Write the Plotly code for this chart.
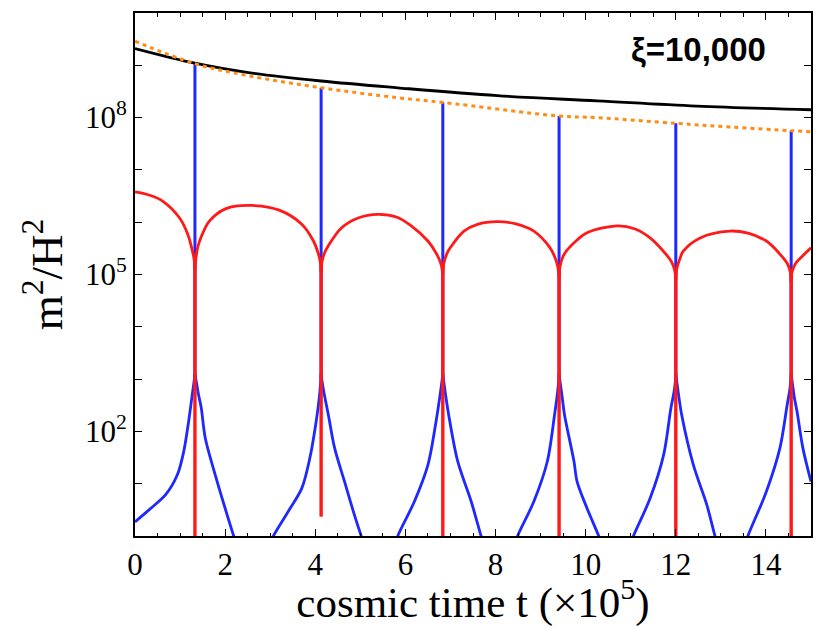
import plotly.graph_objects as go

# ---------------- data (log10 of m^2/H^2) ----------------
spike_t = [1.33, 4.13, 6.83, 9.41, 12.0, 14.56]
blue_spike_top = [9.03, 8.57, 8.29, 8.03, 7.89, 7.75]
blue_spike_base = [3.0, 3.0, 3.0, 3.0, 3.0, 3.0]
red_spike_top = [5.3, 5.25, 5.2, 5.15, 5.1, 5.05]
red_spike_bottom = [-1.0, 0.37, -1.0, -1.0, -1.0, -1.0]

black_t = [0, 1.33, 2.52, 4.13, 5.83, 8.04, 10.25, 12.46, 15.0]
black_v = [9.32, 9.04, 8.86, 8.70, 8.57, 8.42, 8.32, 8.22, 8.15]

orange_t = [0, 1.33, 2.52, 4.13, 5.83, 6.83, 9.41, 10.25, 12.0, 13.2, 14.56, 15.0]
orange_v = [9.46, 9.03, 8.80, 8.57, 8.38, 8.29, 8.03, 8.0, 7.89, 7.82, 7.75, 7.73]

red_arches = [
    ([0, 0.31, 0.62, 0.99, 1.17, 1.26, 1.31, 1.33],
     [6.58, 6.52, 6.40, 6.08, 5.77, 5.50, 5.30, 5.10]),
    ([1.33, 1.35, 1.40, 1.46, 1.65, 2.02, 2.57, 3.2, 3.7, 3.96, 4.06, 4.11, 4.13],
     [5.10, 5.30, 5.55, 5.70, 6.02, 6.26, 6.32, 6.23, 5.96, 5.64, 5.42, 5.25, 5.05]),
    ([4.13, 4.15, 4.21, 4.29, 4.58, 4.95, 5.39, 5.8, 6.13, 6.5, 6.70, 6.79, 6.83],
     [5.05, 5.25, 5.42, 5.55, 5.89, 6.08, 6.15, 6.10, 5.93, 5.64, 5.38, 5.20, 5.00]),
    ([6.83, 6.85, 6.92, 7.01, 7.3, 7.6, 8.04, 8.45, 8.85, 9.21, 9.33, 9.38, 9.41],
     [5.00, 5.20, 5.40, 5.53, 5.83, 5.96, 6.01, 5.97, 5.83, 5.51, 5.30, 5.15, 4.95]),
    ([9.41, 9.43, 9.50, 9.59, 9.81, 10.03, 10.7, 11.1, 11.43, 11.72, 11.90, 11.97, 12.0],
     [4.95, 5.15, 5.35, 5.47, 5.66, 5.80, 5.93, 5.87, 5.70, 5.45, 5.25, 5.10, 4.90]),
    ([12.0, 12.02, 12.09, 12.17, 12.54, 13.2, 13.6, 14.01, 14.30, 14.48, 14.54, 14.56],
     [4.90, 5.10, 5.30, 5.45, 5.70, 5.83, 5.79, 5.64, 5.40, 5.20, 5.05, 4.85]),
    ([14.56, 14.58, 14.65, 14.75, 15.0],
     [4.85, 5.05, 5.20, 5.30, 5.51]),
]

blue_cusps = [
    ([0, 0.31, 0.68, 0.94, 1.08, 1.19, 1.27, 1.31, 1.33],
     [0.27, 0.50, 0.79, 1.17, 1.61, 2.19, 2.70, 2.95, 3.10]),
    ([1.33, 1.36, 1.41, 1.47, 1.56, 1.78, 2.0, 2.19, 2.25],
     [3.10, 2.95, 2.70, 2.45, 1.87, 1.17, 0.53, 0.0, -0.15]),
    ([3.0, 3.07, 3.4, 3.7, 3.88, 4.02, 4.09, 4.12, 4.13],
     [-0.15, 0.0, 0.47, 0.91, 1.49, 2.19, 2.65, 2.95, 3.10]),
    ([4.13, 4.16, 4.22, 4.29, 4.43, 4.65, 4.87, 5.02, 5.08],
     [3.10, 2.90, 2.62, 2.32, 1.68, 1.04, 0.40, 0.0, -0.15]),
    ([5.78, 5.83, 6.2, 6.5, 6.68, 6.77, 6.81, 6.83],
     [-0.15, 0.0, 0.66, 1.36, 2.19, 2.70, 2.95, 3.10]),
    ([6.83, 6.86, 6.90, 6.96, 7.16, 7.46, 7.68, 7.74],
     [3.10, 2.90, 2.65, 2.32, 1.43, 0.66, 0.0, -0.15]),
    ([8.44, 8.49, 8.85, 9.15, 9.31, 9.37, 9.40, 9.41],
     [-0.15, 0.0, 0.66, 1.43, 2.32, 2.70, 2.95, 3.10]),
    ([9.41, 9.44, 9.48, 9.53, 9.74, 9.81, 10.03, 10.29, 10.35],
     [3.10, 2.90, 2.65, 2.32, 1.43, 1.04, 0.53, 0.0, -0.15]),
    ([11.0, 11.06, 11.43, 11.73, 11.89, 11.96, 11.99, 12.0],
     [-0.15, 0.0, 0.72, 1.55, 2.44, 2.75, 2.95, 3.10]),
    ([12.0, 12.03, 12.07, 12.13, 12.39, 12.69, 12.87, 12.93],
     [3.10, 2.90, 2.65, 2.32, 1.36, 0.59, 0.0, -0.15]),
    ([13.55, 13.6, 14.01, 14.31, 14.47, 14.53, 14.55, 14.56],
     [-0.15, 0.0, 0.85, 1.68, 2.50, 2.80, 2.98, 3.10]),
    ([14.56, 14.59, 14.63, 14.69, 14.82, 15.0],
     [3.10, 2.90, 2.65, 2.38, 1.68, 1.04]),
]

x_ticks = [0, 2, 4, 6, 8, 10, 12, 14]
y_label_decades = [2, 5, 8]
y_all_decades = list(range(0, 11))

# ---------------- build traces ----------------
RED = "rgb(255,25,25)"
BLUE = "rgb(30,40,255)"
ORANGE = "rgb(255,140,20)"


def join_segments(segs):
    xs, ys = [], []
    for tx, vy in segs:
        xs += list(tx) + [None]
        ys += [10 ** v for v in vy] + [None]
    return xs, ys


fig = go.Figure()

# blue vertical spikes
bx, by = join_segments([([t, t], [b, top]) for t, b, top in zip(spike_t, blue_spike_base, blue_spike_top)])
fig.add_trace(go.Scatter(x=bx, y=by, mode="lines", line=dict(color=BLUE, width=3),
                         hoverinfo="skip", showlegend=False))
# blue cusps
cx, cy = join_segments(blue_cusps)
fig.add_trace(go.Scatter(x=cx, y=cy, mode="lines", line=dict(color=BLUE, width=2.8, shape="spline", smoothing=0.9),
                         connectgaps=False, showlegend=False))

# black curve
fig.add_trace(go.Scatter(x=black_t, y=[10 ** v for v in black_v], mode="lines",
                         line=dict(color="black", width=2.8, shape="spline"), showlegend=False))
# orange dotted
fig.add_trace(go.Scatter(x=orange_t, y=[10 ** v for v in orange_v], mode="lines",
                         line=dict(color=ORANGE, width=3, dash="4px,4px", shape="spline"), showlegend=False))

# red spikes
rx, ry = join_segments([([t, t], [top, bot]) for t, top, bot in zip(spike_t, red_spike_top, red_spike_bottom)])
fig.add_trace(go.Scatter(x=rx, y=ry, mode="lines", line=dict(color=RED, width=3.4),
                         hoverinfo="skip", showlegend=False))
# red arches
ax, ay = join_segments(red_arches)
fig.add_trace(go.Scatter(x=ax, y=ay, mode="lines", line=dict(color=RED, width=2.8, shape="spline", smoothing=1.0),
                         connectgaps=False, showlegend=False))

# ---------------- layout ----------------
serif = "Liberation Serif, Times New Roman, serif"
minor_decades = [10 ** d for d in y_all_decades if d not in y_label_decades]

fig.update_layout(
    width=816, height=627,
    margin=dict(l=135, r=3, t=13, b=91),
    paper_bgcolor="white", plot_bgcolor="white",
    font=dict(family=serif, color="black", size=30),
    xaxis=dict(
        range=[0, 15], tickvals=x_ticks, ticktext=[str(v) for v in x_ticks],
        ticks="inside", ticklen=7, tickwidth=1.3, tickcolor="black",
        minor=dict(ticks="inside", dtick=0.5, ticklen=3.5, tickcolor="black"),
        showline=True, linecolor="black", linewidth=2, mirror="ticks",
        showgrid=False, zeroline=False,
        tickfont=dict(family=serif, size=31),
        title=dict(text="cosmic time t (×10<sup>5</sup>)", font=dict(family=serif, size=43), standoff=0),
    ),
    yaxis=dict(
        type="log", range=[0, 10],
        tickvals=[10 ** d for d in y_label_decades],
        ticktext=[f"10<sup>{d}</sup>" for d in y_label_decades],
        ticks="inside", ticklen=7, tickwidth=1.3, tickcolor="black",
        minor=dict(ticks="inside", tickvals=minor_decades, ticklen=7, tickcolor="black", tickwidth=1.3),
        showline=True, linecolor="black", linewidth=2, mirror="ticks",
        showgrid=False, zeroline=False,
        tickfont=dict(family=serif, size=31),
        title=dict(text="m<sup>2</sup>/H<sup>2</sup>", font=dict(family=serif, size=45), standoff=8),
    ),
    annotations=[dict(
        text="<b>ξ=10,000</b>", x=0.936, y=0.93, xref="paper", yref="paper",
        xanchor="right", yanchor="middle", showarrow=False,
        font=dict(family="Liberation Sans, Arial, sans-serif", size=33, color="black"),
    )],
)

fig.write_html("out.html")
